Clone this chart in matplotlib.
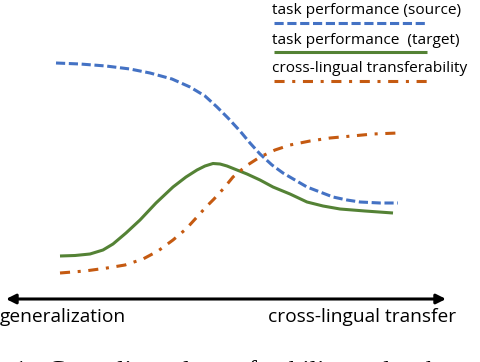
import matplotlib.pyplot as plt

# curve values (x = position along the axis, y = level)
blue_x = [56, 80, 106, 130, 150, 172, 190, 205, 217, 228, 240, 250, 260, 272, 283, 295, 307, 320, 333, 347, 360, 380, 398]
blue_y = [63, 64, 66, 69, 73, 79, 87, 96, 107, 118, 131, 143, 154, 165, 173, 180, 187, 192, 197, 200, 202, 203, 203]

green_x = [60, 75, 90, 103, 113, 126, 140, 156, 173, 186, 197, 205, 213, 220, 227, 237, 247, 260, 273, 290, 307, 323, 340, 365, 393]
green_y = [256, 255.5, 254, 250, 244, 233, 220, 203, 187, 177, 170, 166, 163.5, 164, 166, 170, 174, 180, 187, 194, 202, 206, 209, 211, 213]

orange_x = [60, 85, 107, 125, 143, 158, 173, 186, 197, 206, 214, 224, 233, 246, 260, 275, 290, 310, 330, 352, 373, 398]
orange_y = [273, 271, 268, 265, 259, 251, 240, 229, 217, 207, 199, 188, 177, 166, 157, 150, 145, 141, 138, 136, 134, 133]

labels = ['task performance (source)', 'task performance  (target)', 'cross-lingual transferability']
colors = ['#4472C4', '#548235', '#C55A11']
axis_labels = ['generalization', 'cross-lingual transfer']
caption = '1:  Cross-lingual transferability and task performance'

H = 362

fig = plt.figure(figsize=(4.8, 3.62), dpi=100)
ax = fig.add_axes([0, 0, 1, 1])
ax.set_xlim(0, 480)
ax.set_ylim(0, H)
ax.axis('off')

lw = 2.2
ax.plot(blue_x, [H - v for v in blue_y], color=colors[0], lw=lw, dashes=(3, 1.2), dash_capstyle='butt')
ax.plot(green_x, [H - v for v in green_y], color=colors[1], lw=lw, solid_capstyle='butt')
ax.plot(orange_x, [H - v for v in orange_y], color=colors[2], lw=lw, dashes=(3.3, 2.5, 1, 2.5), dash_capstyle='butt')

# legend drawn by hand
font = 'Open Sans'
text_base = [14, 44, 72]
line_y = [23, 52, 81]
styles = [dict(dashes=(3, 1.2)), dict(), dict(dashes=(3.3, 2.5, 1, 2.5))]
for lab, c, tb, ly, st in zip(labels, colors, text_base, line_y, styles):
    ax.text(272, H - tb, lab, fontsize=11.1, family=font, va='baseline', ha='left')
    ax.plot([274, 427], [H - ly, H - ly], color=c, lw=lw, dash_capstyle='butt', solid_capstyle='butt', **st)

# double arrow
ax.annotate('', xy=(6, H - 299), xytext=(446, H - 299),
            arrowprops=dict(arrowstyle='<|-|>', color='black', lw=2.2,
                            mutation_scale=14, shrinkA=0, shrinkB=0))
ax.text(0, H - 322, axis_labels[0], fontsize=13.8, family=font, va='baseline', ha='left')
ax.text(456, H - 322, axis_labels[1], fontsize=13.8, family=font, va='baseline', ha='right')

# caption cut off at the bottom
ax.text(14, H - 378, caption, fontsize=19, family='Liberation Serif', va='baseline', ha='left', clip_on=False)

fig.savefig('out.png', dpi=100)
